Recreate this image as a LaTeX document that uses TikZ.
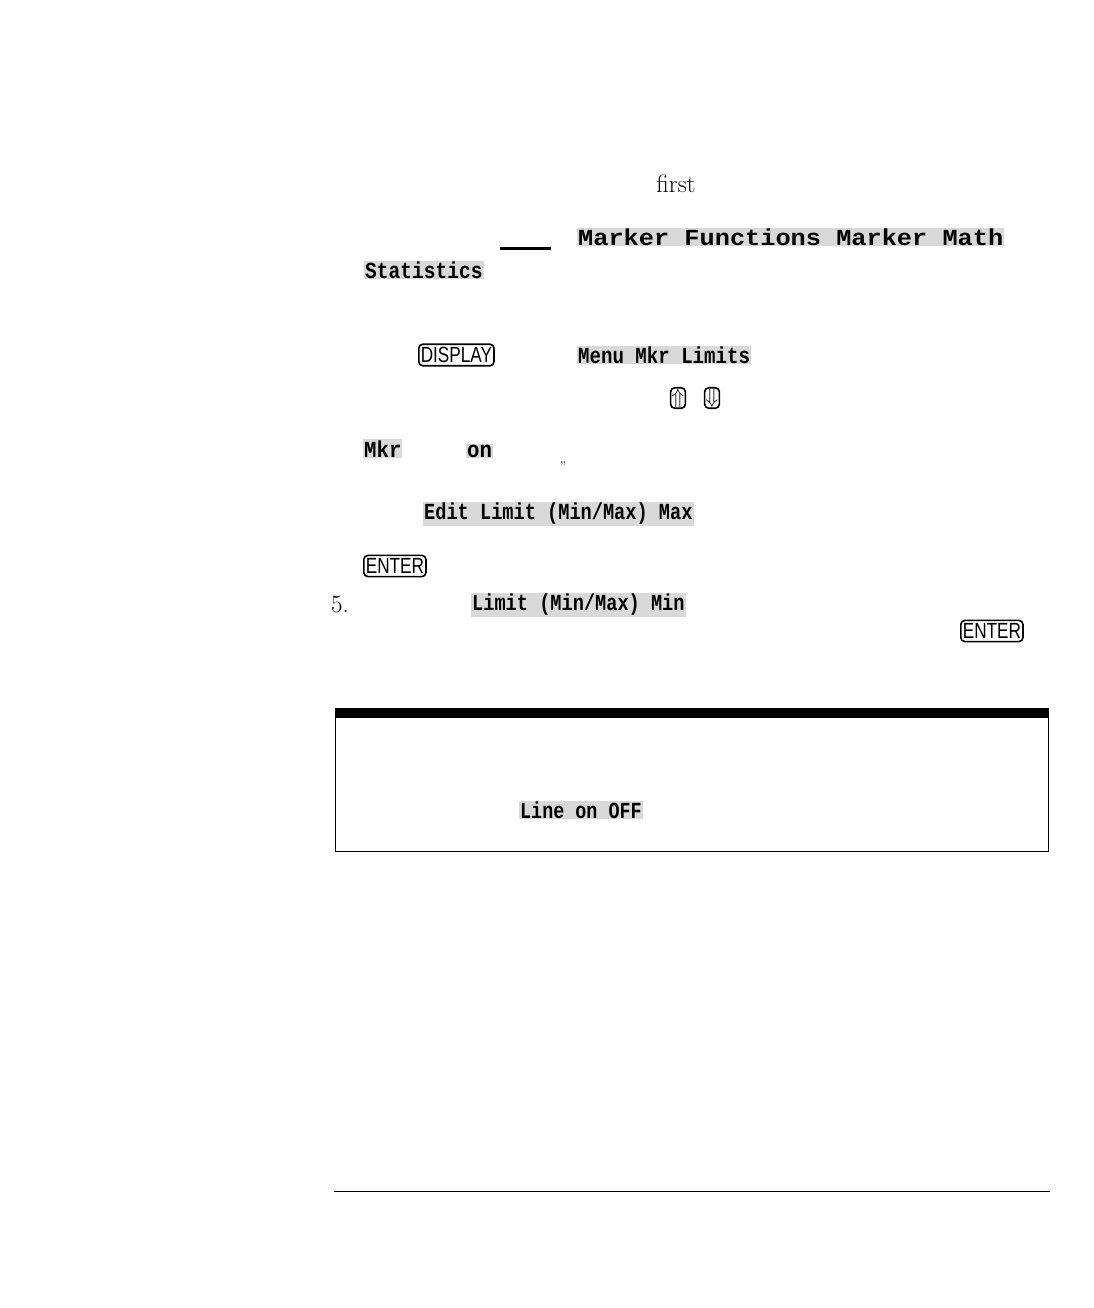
\documentclass[tikz,border=0pt]{standalone}
\usepackage{fontspec}
\usepackage{graphicx}
\setmonofont{Liberation Mono}
\setsansfont{Liberation Sans}
\newcommand{\sk}[2]{\scalebox{#1}[1]{#2}}
\begin{document}
\begin{tikzpicture}[x=1pt,y=-1pt,
    softkey/.style={fill=gray!30, inner sep=1pt, font=\ttfamily\bfseries\fontsize{23}{23}\selectfont},
    hardkey/.style={draw, line width=1.6pt, rounded corners=4pt, inner xsep=2pt, inner ysep=3pt, font=\sffamily\fontsize{22}{22}\selectfont},
    body/.style={inner sep=0pt, font=\fontsize{25}{25}\selectfont}]

    \useasboundingbox (0,0) rectangle (1094,1308);

    \node[body] (first) at (676,184) {first};
    \draw[line width=3pt] (500,248) -- (551,248);
    \node[softkey, anchor=west] (mfunc) at (577,237) {\sk{1.1}{Marker Functions Marker Math}};
    \node[softkey, anchor=west] (stat) at (364,270) {\sk{0.85}{Statistics}};

    \node[hardkey, anchor=west] (display) at (418,355) {\sk{0.78}{DISPLAY}};
    \node[softkey, anchor=west] (mlim) at (577,355) {\sk{0.83}{Menu Mkr Limits}};
    \node[hardkey, inner xsep=1pt, inner ysep=1pt] (up) at (678,398) {$\Uparrow$};
    \node[hardkey, inner xsep=1pt, inner ysep=1pt] (down) at (712,398) {$\Downarrow$};

    \node[softkey, anchor=base west] (mkr) at (363,457) {\sk{0.9}{Mkr}};
    \node[softkey, anchor=base west] (on) at (466,457) {\sk{0.9}{on}};
    \node[body] (quote) at (563,467) {\fontsize{14}{14}\selectfont ”};

    \node[softkey, anchor=west] (emax) at (423,514) {\sk{0.81}{Edit Limit (Min/Max) Max}};
    \node[hardkey, anchor=west] (enter1) at (363,566) {\sk{0.78}{ENTER}};
    \node[body, anchor=west] (five) at (331,604) {5.};
    \node[softkey, anchor=west] (emin) at (471,605) {\sk{0.81}{Limit (Min/Max) Min}};
    \node[hardkey, anchor=west] (enter2) at (960,631) {\sk{0.78}{ENTER}};

    \draw[thick] (335,708) rectangle (1048,851);
    \fill (335,708) rectangle (1048,718);
    \node[softkey, anchor=west] (lineoff) at (519,810) {\sk{0.8}{Line on OFF}};

    \draw[thick] (334,1191) -- (1050,1191);

\end{tikzpicture}
\end{document}
